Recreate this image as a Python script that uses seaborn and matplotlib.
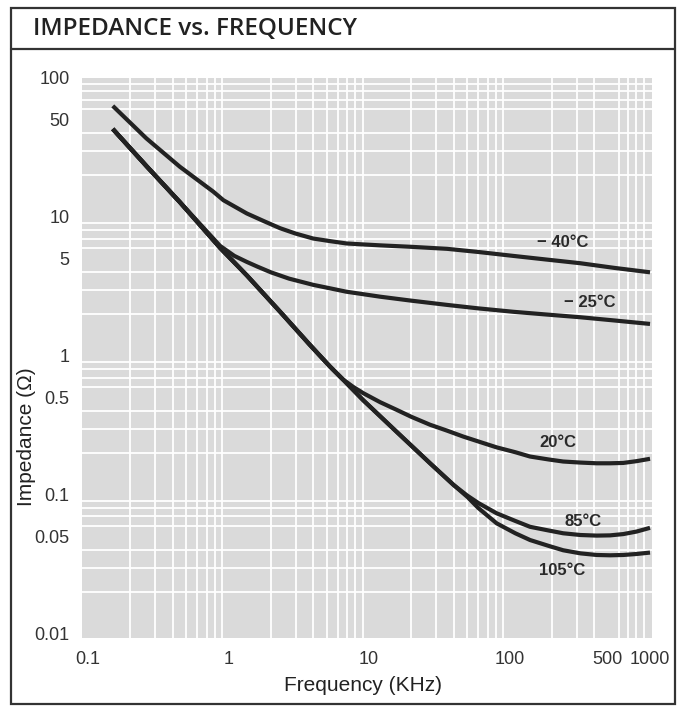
import matplotlib
matplotlib.use('Agg')
import matplotlib.pyplot as plt
from matplotlib.ticker import LogLocator, FixedLocator, NullFormatter
from matplotlib.lines import Line2D
import pandas as pd
import seaborn as sns

# values
freq_m40 = [0.15, 0.26, 0.45, 0.78, 0.92, 1.35, 1.8, 2.33, 3.0, 4.0, 5.3, 6.9, 9.0, 12, 20, 36, 60, 106, 180, 318, 560, 1000]
imp_m40 = [63, 36.8, 23.0, 15.2, 13.2, 10.6, 9.3, 8.3, 7.6, 7.0, 6.7, 6.45, 6.35, 6.25, 6.1, 5.9, 5.6, 5.25, 4.95, 4.65, 4.3, 4.0]

freq_m25 = [0.15, 0.26, 0.45, 0.53, 0.87, 1.1, 1.35, 1.6, 2.0, 2.7, 4.0, 6.9, 12, 20, 36, 60, 106, 180, 318, 560, 1000]
imp_m25 = [43, 23.3, 12.8, 10.7, 6.2, 5.25, 4.75, 4.4, 4.0, 3.6, 3.25, 2.9, 2.67, 2.5, 2.33, 2.2, 2.08, 1.99, 1.9, 1.8, 1.7]

freq_20 = [0.15, 0.26, 0.45, 0.87, 1.35, 2.33, 3.8, 5.27, 6.5, 7.7, 9.1, 12, 15.7, 20, 27.2, 36, 46.9, 62, 81, 110, 140, 190, 241, 320, 417, 520, 645, 800, 1000]
imp_20 = [43, 23.3, 12.8, 6.0, 3.8, 2.08, 1.2, 0.84, 0.68, 0.60, 0.54, 0.465, 0.41, 0.365, 0.32, 0.29, 0.263, 0.24, 0.22, 0.203, 0.189, 0.18, 0.174, 0.171, 0.169, 0.169, 0.170, 0.175, 0.182]

freq_85 = [0.15, 0.26, 0.45, 0.87, 1.35, 2.33, 3.8, 5.27, 6.5, 9.1, 15.7, 27.2, 40, 50, 60, 81, 110, 140, 190, 241, 320, 417, 520, 645, 800, 1000]
imp_85 = [43, 23.3, 12.8, 6.0, 3.8, 2.08, 1.2, 0.84, 0.68, 0.48, 0.285, 0.169, 0.118, 0.099, 0.0875, 0.0738, 0.065, 0.059, 0.0555, 0.053, 0.0515, 0.051, 0.0512, 0.0523, 0.0545, 0.058]

freq_105 = [0.15, 0.26, 0.45, 0.87, 1.35, 2.33, 3.8, 5.27, 6.5, 9.1, 15.7, 27.2, 40, 50, 60, 81, 110, 140, 190, 241, 320, 417, 520, 645, 800, 1000]
imp_105 = [43, 23.3, 12.8, 6.0, 3.8, 2.08, 1.2, 0.84, 0.68, 0.48, 0.285, 0.169, 0.118, 0.097, 0.0805, 0.0625, 0.053, 0.0474, 0.043, 0.040, 0.038, 0.037, 0.0368, 0.037, 0.0376, 0.0385]

curve_names = ['\u2212 40\u00b0C', '\u2212 25\u00b0C', '20\u00b0C', '85\u00b0C', '105\u00b0C']

x_ticks = [0.1, 1, 10, 100, 500, 1000]
x_ticklabels = ['0.1', '1', '10', '100', '500', '1000']
y_ticks = [0.01, 0.05, 0.1, 0.5, 1, 5, 10, 50, 100]
y_ticklabels = ['0.01', '0.05', '0.1', '0.5', '1', '5', '10', '50', '100']

series = [(freq_m40, imp_m40), (freq_m25, imp_m25), (freq_20, imp_20),
          (freq_85, imp_85), (freq_105, imp_105)]
df = pd.concat([pd.DataFrame({'freq': f, 'imp': z, 'temp': name})
                for (f, z), name in zip(series, curve_names)], ignore_index=True)

sns.set_style('white')
plt.rcParams['font.family'] = ['Liberation Sans', 'DejaVu Sans']

W, H = 686, 708
fig = plt.figure(figsize=(W / 100, H / 100), dpi=100)
fig.patch.set_facecolor('white')
ax = fig.add_axes([82 / W, 1 - 638 / H, 570 / W, 560 / H])

ax.set_xscale('log')
ax.set_yscale('log')
ax.set_facecolor('#dadada')

ink = '#222222'
sns.lineplot(data=df, x='freq', y='imp', hue='temp', estimator=None, sort=False,
             palette={n: ink for n in curve_names}, linewidth=3.0, legend=False, ax=ax)
for line in ax.get_lines():
    line.set_solid_joinstyle('round')
    line.set_solid_capstyle('butt')

ax.set_xlim(0.0906, 1033)
ax.set_ylim(0.00935, 100)

ax.xaxis.set_major_locator(FixedLocator(x_ticks))
ax.set_xticklabels(x_ticklabels)
ax.yaxis.set_major_locator(FixedLocator(y_ticks))
ax.set_yticklabels(y_ticklabels)

# white print grid on the gray field
ax.xaxis.set_minor_locator(LogLocator(base=10, subs=(1, 2, 3, 4, 5, 6, 7, 8, 9), numticks=20))
ax.yaxis.set_minor_locator(LogLocator(base=10, subs=(1, 2, 3, 4, 5, 6, 7, 8, 9), numticks=20))
ax.xaxis.set_minor_formatter(NullFormatter())
ax.yaxis.set_minor_formatter(NullFormatter())
ax.grid(False, which='major')
ax.grid(True, which='minor', color='white', linewidth=1.3)
ax.set_axisbelow(True)

ax.tick_params(which='both', length=0)
ax.tick_params(axis='x', pad=9, labelsize=13, labelcolor='#333333')
ax.tick_params(axis='y', pad=9, labelsize=13, labelcolor='#333333')
for s in ax.spines.values():
    s.set_visible(False)

ax.set_xlabel('Frequency (KHz)', fontsize=15, color='#222222')
ax.xaxis.set_label_coords(0.493, -0.084)
ax.xaxis.label.set_va('center')
ax.set_ylabel('Impedance (\u03a9)', fontsize=15, color='#222222')
ax.yaxis.set_label_coords(-0.097, 0.36)
ax.yaxis.label.set_va('center')

label_pos = [(240, 6.6), (374, 2.44), (221, 0.24), (333, 0.064), (237, 0.0288)]
for name, (lx, ly) in zip(curve_names, label_pos):
    ax.text(lx, ly, name, ha='center', va='center', fontsize=12,
            fontweight='bold', color='#2a2a2a')

# outer frame and title strip
fig.add_artist(plt.Rectangle((11 / W, 1 - 704 / H), 664 / W, 696 / H,
                             transform=fig.transFigure, fill=False,
                             edgecolor='#333333', linewidth=1.6))
fig.add_artist(Line2D([11 / W, 675 / W], [1 - 49 / H, 1 - 49 / H],
                      transform=fig.transFigure, color='#333333', linewidth=1.6))
fig.text(33 / W, 1 - 29 / H, 'IMPEDANCE vs. FREQUENCY', ha='left', va='center',
         fontsize=17.5, fontweight='semibold', color='#222222',
         family=['Open Sans', 'DejaVu Sans'])

fig.savefig('out.png', dpi=100)
